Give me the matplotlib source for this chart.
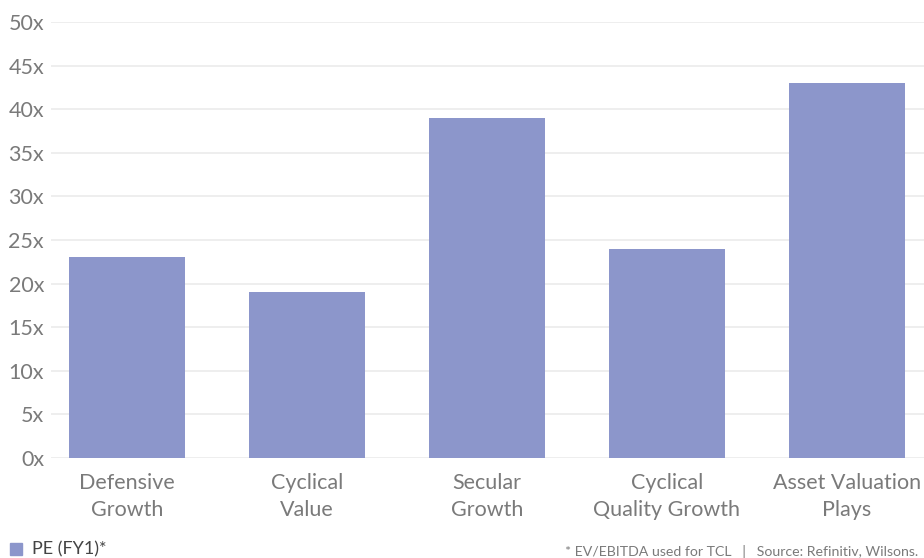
import numpy as np
from matplotlib import pyplot as plt
from matplotlib.ticker import FuncFormatter

# style buckets and forward PE multiples
categories = ["Defensive\nGrowth", "Cyclical\nValue", "Secular\nGrowth",
              "Cyclical\nQuality Growth", "Asset Valuation\nPlays"]
pe_fy1 = [23, 19, 39, 24, 43]
y_ticks = [0, 5, 10, 15, 20, 25, 30, 35, 40, 45, 50]

bar_color = "#8c96cb"
text_color = "#7a7a7a"

plt.rcParams['font.family'] = ['Lato', 'DejaVu Sans']

fig = plt.figure(figsize=(9.24, 5.58), dpi=100)
ax = fig.add_axes([51/924, 1 - 458/558, (924-51)/924, (458-22)/558])

x = np.arange(len(categories))
ax.bar(x, pe_fy1, width=0.644, color=bar_color, zorder=2)

ax.set_xlim(-0.422, 4.428)
ax.set_ylim(0, 50)
ax.set_yticks(y_ticks)
ax.yaxis.set_major_formatter(FuncFormatter(lambda v, p: "{:d}x".format(int(v))))
ax.set_xticks(x)
ax.set_xticklabels(categories, linespacing=1.45)

ax.grid(axis='y', color='#ebebeb', linewidth=1.2, zorder=0)
for s in ax.spines.values():
    s.set_visible(False)
ax.tick_params(axis='both', length=0, labelsize=15.5, colors=text_color)
ax.tick_params(axis='y', pad=5)
ax.tick_params(axis='x', pad=11)

# legend and source note along the bottom
fig.patches.append(plt.Rectangle((10/924, 1 - 555/558), 12/924, 12/558,
                                 transform=fig.transFigure, color=bar_color))
fig.text(32/924, 1 - 549/558, "PE (FY1)*", fontsize=13, color="#444444", va='center')
fig.text(918/924, 1 - 551/558,
         "* EV/EBITDA used for TCL   |   Source: Refinitiv, Wilsons.",
         fontsize=10.2, color=text_color, ha='right', va='center')

fig.savefig("out.png", dpi=100)
